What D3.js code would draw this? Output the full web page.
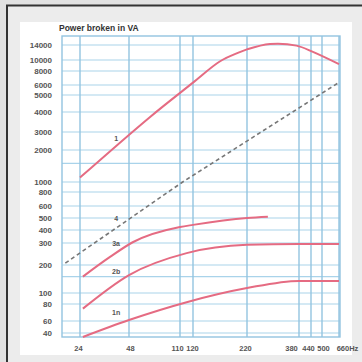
<!DOCTYPE html>
<html>
<head>
<meta charset="utf-8">
<script src="https://cdn.jsdelivr.net/npm/d3@7"></script>
<style>
body { margin: 0; background: #e4e4e4; }
svg { display: block; font-family: "Liberation Sans", Arial, sans-serif; }
</style>
</head>
<body>
<div id="chart"></div>
<script>
// axis ticks (frequency in Hz, power in VA)
const freqTicks = [24, 48, 110, 120, 220, 380, 440, 500, 660];
const vaTicks = [40, 60, 80, 100, 200, 300, 400, 500, 600, 800, 1000, 2000, 3000, 4000, 5000, 6000, 8000, 10000, 14000];
const vaExtraGrid = [150, 1500];

// curves
const freq1 = [24, 67, 120, 162, 200, 220, 280, 370, 450, 660];
const va1 = [1100, 3700, 6300, 9700, 11800, 12700, 14300, 13800, 12000, 9200];

const freq4 = [19.5, 112, 650];
const va4 = [207, 1000, 6250];

const freq3a = [25, 36.7, 51, 110, 120, 220, 274];
const va3a = [150, 232, 305, 423, 440, 500, 510];

const freq2b = [25, 48, 115, 220, 380, 660];
const va2b = [74, 156, 249, 290, 295, 295];

const freq1n = [25, 48, 115, 220, 380, 660];
const va1n = [35, 61, 83, 113, 135, 135];

const curveNames = ["1", "4", "3a", "2b", "1n"];
const labelFreq = [40, 40, 40, 40, 40];
const labelVA = [2450, 470, 285, 160, 66];

const width = 362, height = 362;
const box = {left: 62, right: 340, top: 36, bottom: 337};

// the printed grid is not evenly logarithmic, so each tick gets its own stop
const xStops = [80, 129, 180, 193, 247, 299, 311, 322, 339];
const yStops = [333, 321, 304, 293, 265, 243, 230, 218, 206, 192, 182, 150, 132, 112, 95, 85, 71, 60, 45];
const xLabelShift = [-2, 1, -3, -1, -2, -8, -3, 1, 8];

const xs = d3.scaleLinear().domain(freqTicks.map(Math.log10)).range(xStops);
const ys = d3.scaleLinear().domain(vaTicks.map(Math.log10)).range(yStops);
const x = f => xs(Math.log10(f));
const y = v => ys(Math.log10(v));

const svg = d3.select("#chart").append("svg")
    .attr("width", width)
    .attr("height", height);

// frame
svg.append("rect").attr("width", width).attr("height", height).attr("fill", "#e2e2e2");
svg.append("rect").attr("x", 7).attr("y", 5.5).attr("width", 400).attr("height", 400)
    .attr("fill", "#ececec").attr("stroke", "#333").attr("stroke-width", 2);
svg.append("rect").attr("x", 20).attr("y", 22).attr("width", 332).attr("height", 333).attr("fill", "#fff");

// grid
const grid = svg.append("g");
grid.selectAll(".hg")
    .data(vaTicks.concat(vaExtraGrid))
    .join("line")
    .attr("x1", box.left).attr("x2", box.right)
    .attr("y1", d => y(d)).attr("y2", d => y(d))
    .attr("stroke", "#a9d3ea").attr("stroke-width", 1.2);
grid.selectAll(".vg")
    .data(freqTicks)
    .join("line")
    .attr("x1", d => x(d)).attr("x2", d => x(d))
    .attr("y1", box.top).attr("y2", box.bottom)
    .attr("stroke", "#93c4e0").attr("stroke-width", 1.4);
grid.append("rect")
    .attr("x", box.left).attr("y", box.top)
    .attr("width", box.right - box.left).attr("height", box.bottom - box.top)
    .attr("fill", "none").attr("stroke", "#93c4e0").attr("stroke-width", 1.4);

// axes labels
const yAxis = g => g
    .attr("transform", `translate(${box.left - 7},0)`)
    .call(d3.axisLeft(ys).tickValues(vaTicks.map(Math.log10))
        .tickFormat(d => Math.round(Math.pow(10, d))).tickSize(0))
    .call(g => g.select(".domain").remove());
svg.append("g").call(yAxis)
    .selectAll("text")
    .attr("font-size", 8).attr("font-weight", "bold").attr("fill", "#555")
    .attr("font-family", "'Liberation Sans', Arial, sans-serif");

const xAxis = g => g
    .attr("transform", `translate(0,${box.bottom + 6})`)
    .call(d3.axisBottom(xs).tickValues(freqTicks.map(Math.log10))
        .tickFormat((d, i) => Math.round(Math.pow(10, d)) + (i === freqTicks.length - 1 ? "Hz" : "")).tickSize(0))
    .call(g => g.select(".domain").remove());
svg.append("g").call(xAxis)
    .selectAll("text")
    .attr("dx", (d, i) => xLabelShift[i])
    .attr("font-size", 7.5).attr("font-weight", "bold").attr("fill", "#555")
    .attr("font-family", "'Liberation Sans', Arial, sans-serif");

svg.append("text")
    .attr("x", 59).attr("y", 31)
    .attr("font-size", 8.5).attr("font-weight", "bold").attr("fill", "#333")
    .text("Power broken in VA");

// curves
const line = d3.line()
    .x(d => x(d[0]))
    .y(d => y(d[1]));

svg.append("path")
    .attr("d", line.curve(d3.curveCatmullRom.alpha(0.5))(d3.zip(freq1, va1)))
    .attr("fill", "none")
    .attr("stroke", "#e56b82")
    .attr("stroke-width", 2);

const lower = [[freq3a, va3a], [freq2b, va2b], [freq1n, va1n]];
svg.selectAll(".curve")
    .data(lower)
    .join("path")
    .attr("class", "curve")
    .attr("d", d => line.curve(d3.curveMonotoneX)(d3.zip(d[0], d[1])))
    .attr("fill", "none")
    .attr("stroke", "#e56b82")
    .attr("stroke-width", 2);

svg.append("path")
    .attr("d", line.curve(d3.curveLinear)(d3.zip(freq4, va4)))
    .attr("fill", "none")
    .attr("stroke", "#777")
    .attr("stroke-width", 1.6)
    .attr("stroke-dasharray", "4,3");

svg.selectAll(".lbl")
    .data(curveNames)
    .join("text")
    .attr("x", (d, i) => x(labelFreq[i]))
    .attr("y", (d, i) => y(labelVA[i]))
    .attr("text-anchor", "middle")
    .attr("font-size", 7)
    .attr("font-weight", "bold")
    .attr("fill", "#555")
    .text(d => d);
</script>
</body>
</html>
